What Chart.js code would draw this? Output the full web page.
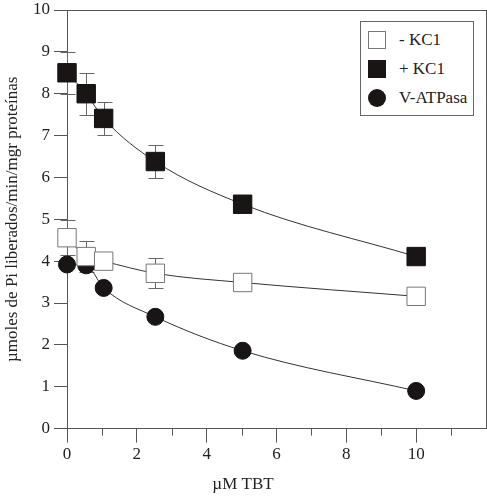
<!DOCTYPE html>
<html>
<head>
<meta charset="utf-8">
<script src="https://cdn.jsdelivr.net/npm/chart.js@4"></script>
<style>
  body { margin: 0; background: #fff; }
  #wrap { position: relative; width: 487px; height: 499px; }
  #legend {
    position: absolute; left: 360px; top: 21px; width: 112px; height: 93px;
    border: 1px solid #666; background: #fff;
    font-family: "Liberation Serif", serif; font-size: 17px; color: #222;
  }
  .item { position: absolute; left: 7px; height: 20px; line-height: 20px; }
  .item span.mark { position: absolute; left: 0; top: 1px; width: 18px; height: 18px; box-sizing: border-box; }
  .item span.txt { position: absolute; left: 31px; top: 0; white-space: nowrap; }
</style>
</head>
<body>
<div id="wrap">
  <canvas id="chart" width="487" height="499"></canvas>
  <div id="legend">
    <div class="item" style="top:8px"><span class="mark" style="border:1px solid #777;background:#fff"></span><span class="txt">- KC1</span></div>
    <div class="item" style="top:37px"><span class="mark" style="background:#1a1515"></span><span class="txt">+ KC1</span></div>
    <div class="item" style="top:66px"><span class="mark" style="background:#1a1515;border-radius:50%"></span><span class="txt">V-ATPasa</span></div>
  </div>
</div>
<script>
// TBT concentration (µM) for every series
const tbt = [0, 0.55, 1.05, 2.53, 5.03, 10];

const minusKC1 = [4.56, 4.11, 4.0, 3.71, 3.49, 3.16];
const minusKC1Err = [0.42, 0.36, 0, 0.36, 0, 0];

const plusKC1 = [8.5, 8.0, 7.41, 6.38, 5.36, 4.11];
const plusKC1Err = [0.5, 0.5, 0.4, 0.4, 0, 0];

const vATPasa = [3.92, 3.9, 3.36, 2.67, 1.86, 0.9];

const xTickLabels = ['0', '2', '4', '6', '8', '10'];

const toPoints = ys => ys.map((y, i) => ({ x: tbt[i], y }));
const axisColor = '#555';

Chart.defaults.font.family = '"Liberation Serif", "Times New Roman", serif';
Chart.defaults.font.size = 17;
Chart.defaults.color = '#222';

// vertical error bars with caps, drawn under the markers
const errorBars = {
  id: 'errorBars',
  beforeDatasetsDraw(chart) {
    const { ctx, scales: { x, y } } = chart;
    ctx.save();
    ctx.strokeStyle = '#666';
    ctx.lineWidth = 1;
    chart.data.datasets.forEach(ds => {
      if (!ds.errors) return;
      ds.data.forEach((p, i) => {
        const e = ds.errors[i];
        if (!e) return;
        const px = Math.round(x.getPixelForValue(p.x)) + 0.5;
        const top = Math.round(y.getPixelForValue(p.y + e)) + 0.5;
        const bot = Math.round(y.getPixelForValue(p.y - e)) + 0.5;
        ctx.beginPath();
        ctx.moveTo(px, top); ctx.lineTo(px, bot);
        ctx.moveTo(px - 7, top); ctx.lineTo(px + 8, top);
        ctx.moveTo(px - 7, bot); ctx.lineTo(px + 8, bot);
        ctx.stroke();
      });
    });
    ctx.restore();
  },
  // short minor ticks on the x axis at odd values
  afterDraw(chart) {
    const { ctx, scales: { x }, chartArea } = chart;
    ctx.save();
    ctx.strokeStyle = axisColor;
    ctx.lineWidth = 1;
    ctx.beginPath();
    for (let v = 1; v < 12; v += 2) {
      const px = Math.round(x.getPixelForValue(v)) + 0.5;
      ctx.moveTo(px, chartArea.bottom);
      ctx.lineTo(px, chartArea.bottom + 7);
    }
    ctx.stroke();
    ctx.restore();
  }
};

const lineStyle = {
  borderColor: '#333',
  borderWidth: 1,
  cubicInterpolationMode: 'monotone',
  clip: false
};

const noPadX = h => s => { s.height = h; s.paddingLeft = 0; s.paddingRight = 0; };
const noPadY = w => s => { s.width = w; s.paddingTop = 0; s.paddingBottom = 0; };

new Chart(document.getElementById('chart'), {
  type: 'scatter',
  data: {
    datasets: [
      { label: '- KC1', data: toPoints(minusKC1), errors: minusKC1Err, showLine: true, ...lineStyle,
        pointStyle: 'rect', pointRadius: 13, pointBackgroundColor: '#fff', pointBorderColor: '#777', pointBorderWidth: 1 },
      { label: '+ KC1', data: toPoints(plusKC1), errors: plusKC1Err, showLine: true, ...lineStyle,
        pointStyle: 'rect', pointRadius: 13, pointBackgroundColor: '#1a1515', pointBorderColor: '#111', pointBorderWidth: 1 },
      { label: 'V-ATPasa', data: toPoints(vATPasa), showLine: true, ...lineStyle,
        pointStyle: 'circle', pointRadius: 8.5, pointBackgroundColor: '#1a1515', pointBorderColor: '#111', pointBorderWidth: 1 }
    ]
  },
  options: {
    responsive: false,
    animation: false,
    layout: { autoPadding: false, padding: { top: 10, right: 1, left: 0, bottom: 0 } },
    plugins: {
      legend: { display: false },
      tooltip: { enabled: false },
      title: {
        display: true, position: 'bottom', fullSize: true, text: 'µM TBT',
        font: { size: 17, weight: 'normal' }, color: '#222',
        padding: { top: 0, bottom: 4 }
      }
    },
    scales: {
      x: {
        type: 'linear', min: 0, max: 12,
        afterFit: noPadX(46),
        afterBuildTicks: s => { s.ticks = Array.from({ length: 13 }, (_, v) => ({ value: v })); },
        ticks: {
          padding: 2, maxRotation: 0, autoSkip: false,
          callback: v => (v % 2 === 0 && v <= 10) ? xTickLabels[v / 2] : ''
        },
        grid: {
          drawOnChartArea: false, tickLength: 14,
          tickColor: c => (c.tick && c.tick.value % 2 === 0 && c.tick.value < 12) ? axisColor : 'rgba(0,0,0,0)'
        },
        border: { color: axisColor }
      },
      y: {
        type: 'linear', min: 0, max: 10,
        afterFit: noPadY(67),
        ticks: { stepSize: 1, padding: 4 },
        grid: { drawOnChartArea: false, tickLength: 13, tickColor: axisColor },
        border: { color: axisColor },
        title: {
          display: true, text: 'µmoles de Pi liberados/min/mgr proteínas',
          font: { size: 17 }, color: '#222', padding: { top: 2, bottom: 0 }
        }
      },
      xTop: {
        type: 'linear', position: 'top', min: 0, max: 12, display: true,
        afterFit: noPadX(0),
        ticks: { display: false },
        grid: { drawOnChartArea: false, drawTicks: false },
        border: { color: axisColor }
      },
      yRight: {
        type: 'linear', position: 'right', min: 0, max: 10, display: true,
        afterFit: noPadY(0),
        ticks: { display: false },
        grid: { drawOnChartArea: false, drawTicks: false },
        border: { color: axisColor }
      }
    }
  },
  plugins: [errorBars]
});
</script>
</body>
</html>
